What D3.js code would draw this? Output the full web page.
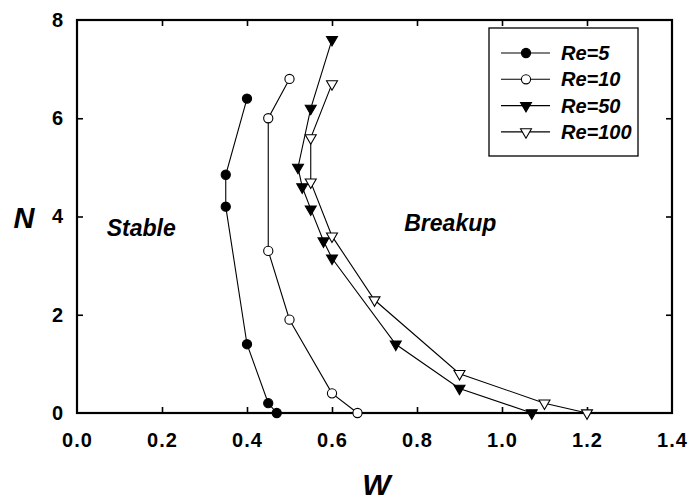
<!DOCTYPE html>
<html>
<head>
<meta charset="utf-8">
<script src="https://cdn.jsdelivr.net/npm/d3@7"></script>
<style>
  html, body { margin: 0; padding: 0; background: #fff; }
  svg { display: block; }
  text { font-family: "Liberation Sans", Arial, Helvetica, sans-serif; font-weight: bold; fill: #000; }
</style>
</head>
<body>
<svg id="chart" width="692" height="504"></svg>
<script>
// Critical droplet-breakup curves: N against W for several Reynolds numbers
const seriesNames = ["Re=5", "Re=10", "Re=50", "Re=100"];
const markerKinds = ["circle", "circle", "triangle", "triangle"];
const markerFilled = [true, false, true, false];

const re5W = [0.40, 0.35, 0.35, 0.40, 0.45, 0.47];
const re5N = [6.4, 4.85, 4.2, 1.4, 0.2, 0.0];

const re10W = [0.50, 0.45, 0.45, 0.50, 0.60, 0.66];
const re10N = [6.8, 6.0, 3.3, 1.9, 0.4, 0.0];

const re50W = [0.60, 0.55, 0.52, 0.53, 0.55, 0.58, 0.60, 0.75, 0.90, 1.07];
const re50N = [7.6, 6.2, 5.0, 4.6, 4.15, 3.5, 3.15, 1.4, 0.5, 0.0];

const re100W = [0.60, 0.55, 0.55, 0.60, 0.70, 0.90, 1.10, 1.20];
const re100N = [6.7, 5.6, 4.7, 3.6, 2.3, 0.8, 0.2, 0.0];

const xTicks = [0.0, 0.2, 0.4, 0.6, 0.8, 1.0, 1.2, 1.4];
const yTicks = [0, 2, 4, 6, 8];

const regionLabels = [
  { text: "Stable", w: 0.07, n: 3.6 },
  { text: "Breakup", w: 0.77, n: 3.7 }
];

const seriesW = [re5W, re10W, re50W, re100W];
const seriesN = [re5N, re10N, re50N, re100N];
const series = seriesNames.map((name, i) => ({
  name,
  kind: markerKinds[i],
  filled: markerFilled[i],
  points: seriesW[i].map((w, j) => ({ w, n: seriesN[i][j] }))
}));

const svg = d3.select("#chart");
const margin = { left: 77, top: 20, right: 20, bottom: 91 };
const width = 692 - margin.left - margin.right;
const height = 504 - margin.top - margin.bottom;

const x = d3.scaleLinear().domain([0, 1.4]).range([0, width]);
const y = d3.scaleLinear().domain([0, 8]).range([height, 0]);

const g = svg.append("g").attr("transform", `translate(${margin.left},${margin.top})`);

// Axes with inward ticks on all four sides
const tickLen = 6;
const xBottom = g.append("g").attr("transform", `translate(0,${height})`)
  .call(d3.axisBottom(x).tickValues(xTicks).tickFormat(d3.format(".1f"))
    .tickSizeInner(-tickLen).tickSizeOuter(0).tickPadding(20));
const yLeft = g.append("g")
  .call(d3.axisLeft(y).tickValues(yTicks).tickFormat(d3.format("d"))
    .tickSizeInner(-tickLen).tickSizeOuter(0).tickPadding(13));
const xTop = g.append("g")
  .call(d3.axisTop(x).tickValues(xTicks).tickFormat("")
    .tickSizeInner(-tickLen).tickSizeOuter(0));
const yRight = g.append("g").attr("transform", `translate(${width},0)`)
  .call(d3.axisRight(y).tickValues(yTicks).tickFormat("")
    .tickSizeInner(-tickLen).tickSizeOuter(0));

[xBottom, yLeft, xTop, yRight].forEach(a => {
  a.select(".domain").remove();
  a.selectAll(".tick line").attr("stroke", "#000").attr("stroke-width", 1.6);
  a.selectAll("text").attr("font-size", 20).attr("letter-spacing", "1px").style("font-family", '"Liberation Sans", Arial, sans-serif').style("font-weight", "bold").attr("fill", "#000");
});
xBottom.selectAll(".tick").filter(d => d === 0 || d === 1.4).select("line").remove();
yLeft.selectAll(".tick").filter(d => d === 0 || d === 8).select("line").remove();
xTop.selectAll(".tick").filter(d => d === 0 || d === 1.4).select("line").remove();
yRight.selectAll(".tick").filter(d => d === 0 || d === 8).select("line").remove();

// Plot frame
g.append("rect")
  .attr("x", 0).attr("y", 0).attr("width", width).attr("height", height)
  .attr("fill", "none").attr("stroke", "#000").attr("stroke-width", 2.2);

// Axis titles
svg.append("text")
  .attr("x", 24).attr("y", 228)
  .attr("text-anchor", "middle").attr("font-size", 29).attr("font-style", "italic")
  .text("N");
svg.append("text")
  .attr("x", margin.left + width / 2 + 2).attr("y", 495)
  .attr("text-anchor", "middle").attr("font-size", 30).attr("font-style", "italic")
  .text("W");

// Region labels
g.selectAll("text.region").data(regionLabels).join("text")
  .attr("class", "region")
  .attr("x", d => x(d.w)).attr("y", d => y(d.n))
  .attr("font-size", 23).attr("font-style", "italic")
  .text(d => d.text);

// Markers
const triSize = 52;
function drawMarker(sel, kind, filled) {
  if (kind === "circle") {
    sel.append("circle").attr("r", 4.6);
  } else {
    sel.append("path").attr("d", d3.symbol(d3.symbolTriangle, triSize)())
      .attr("transform", "rotate(180)");
  }
  sel.selectAll("circle, path")
    .attr("fill", filled ? "#000" : "#fff")
    .attr("stroke", "#000").attr("stroke-width", 1.1);
}

const line = d3.line().x(d => x(d.w)).y(d => y(d.n));

const sg = g.selectAll("g.series").data(series).join("g").attr("class", "series");
sg.append("path")
  .attr("d", d => line(d.points))
  .attr("fill", "none").attr("stroke", "#000").attr("stroke-width", 1.1);
sg.each(function (s) {
  d3.select(this).selectAll("g.pt").data(s.points).join("g")
    .attr("class", "pt")
    .attr("transform", d => `translate(${x(d.w)},${y(d.n)})`)
    .each(function () { drawMarker(d3.select(this), s.kind, s.filled); });
});

// Legend
const legend = svg.append("g").attr("transform", "translate(489,28)");
legend.append("rect")
  .attr("width", 149).attr("height", 128)
  .attr("fill", "#fff").attr("stroke", "#000").attr("stroke-width", 1.3);
const rows = legend.selectAll("g.row").data(series).join("g")
  .attr("class", "row")
  .attr("transform", (d, i) => `translate(0,${25 + i * 26.3})`);
rows.append("line")
  .attr("x1", 12).attr("x2", 61).attr("y1", 0).attr("y2", 0)
  .attr("stroke", "#000").attr("stroke-width", 1.1);
rows.each(function (s) {
  const m = d3.select(this).append("g").attr("transform", "translate(37,0)");
  drawMarker(m, s.kind, s.filled);
});
rows.append("text")
  .attr("x", 72).attr("y", 7)
  .attr("font-size", 20).attr("font-style", "italic")
  .text(d => d.name);
</script>
</body>
</html>
